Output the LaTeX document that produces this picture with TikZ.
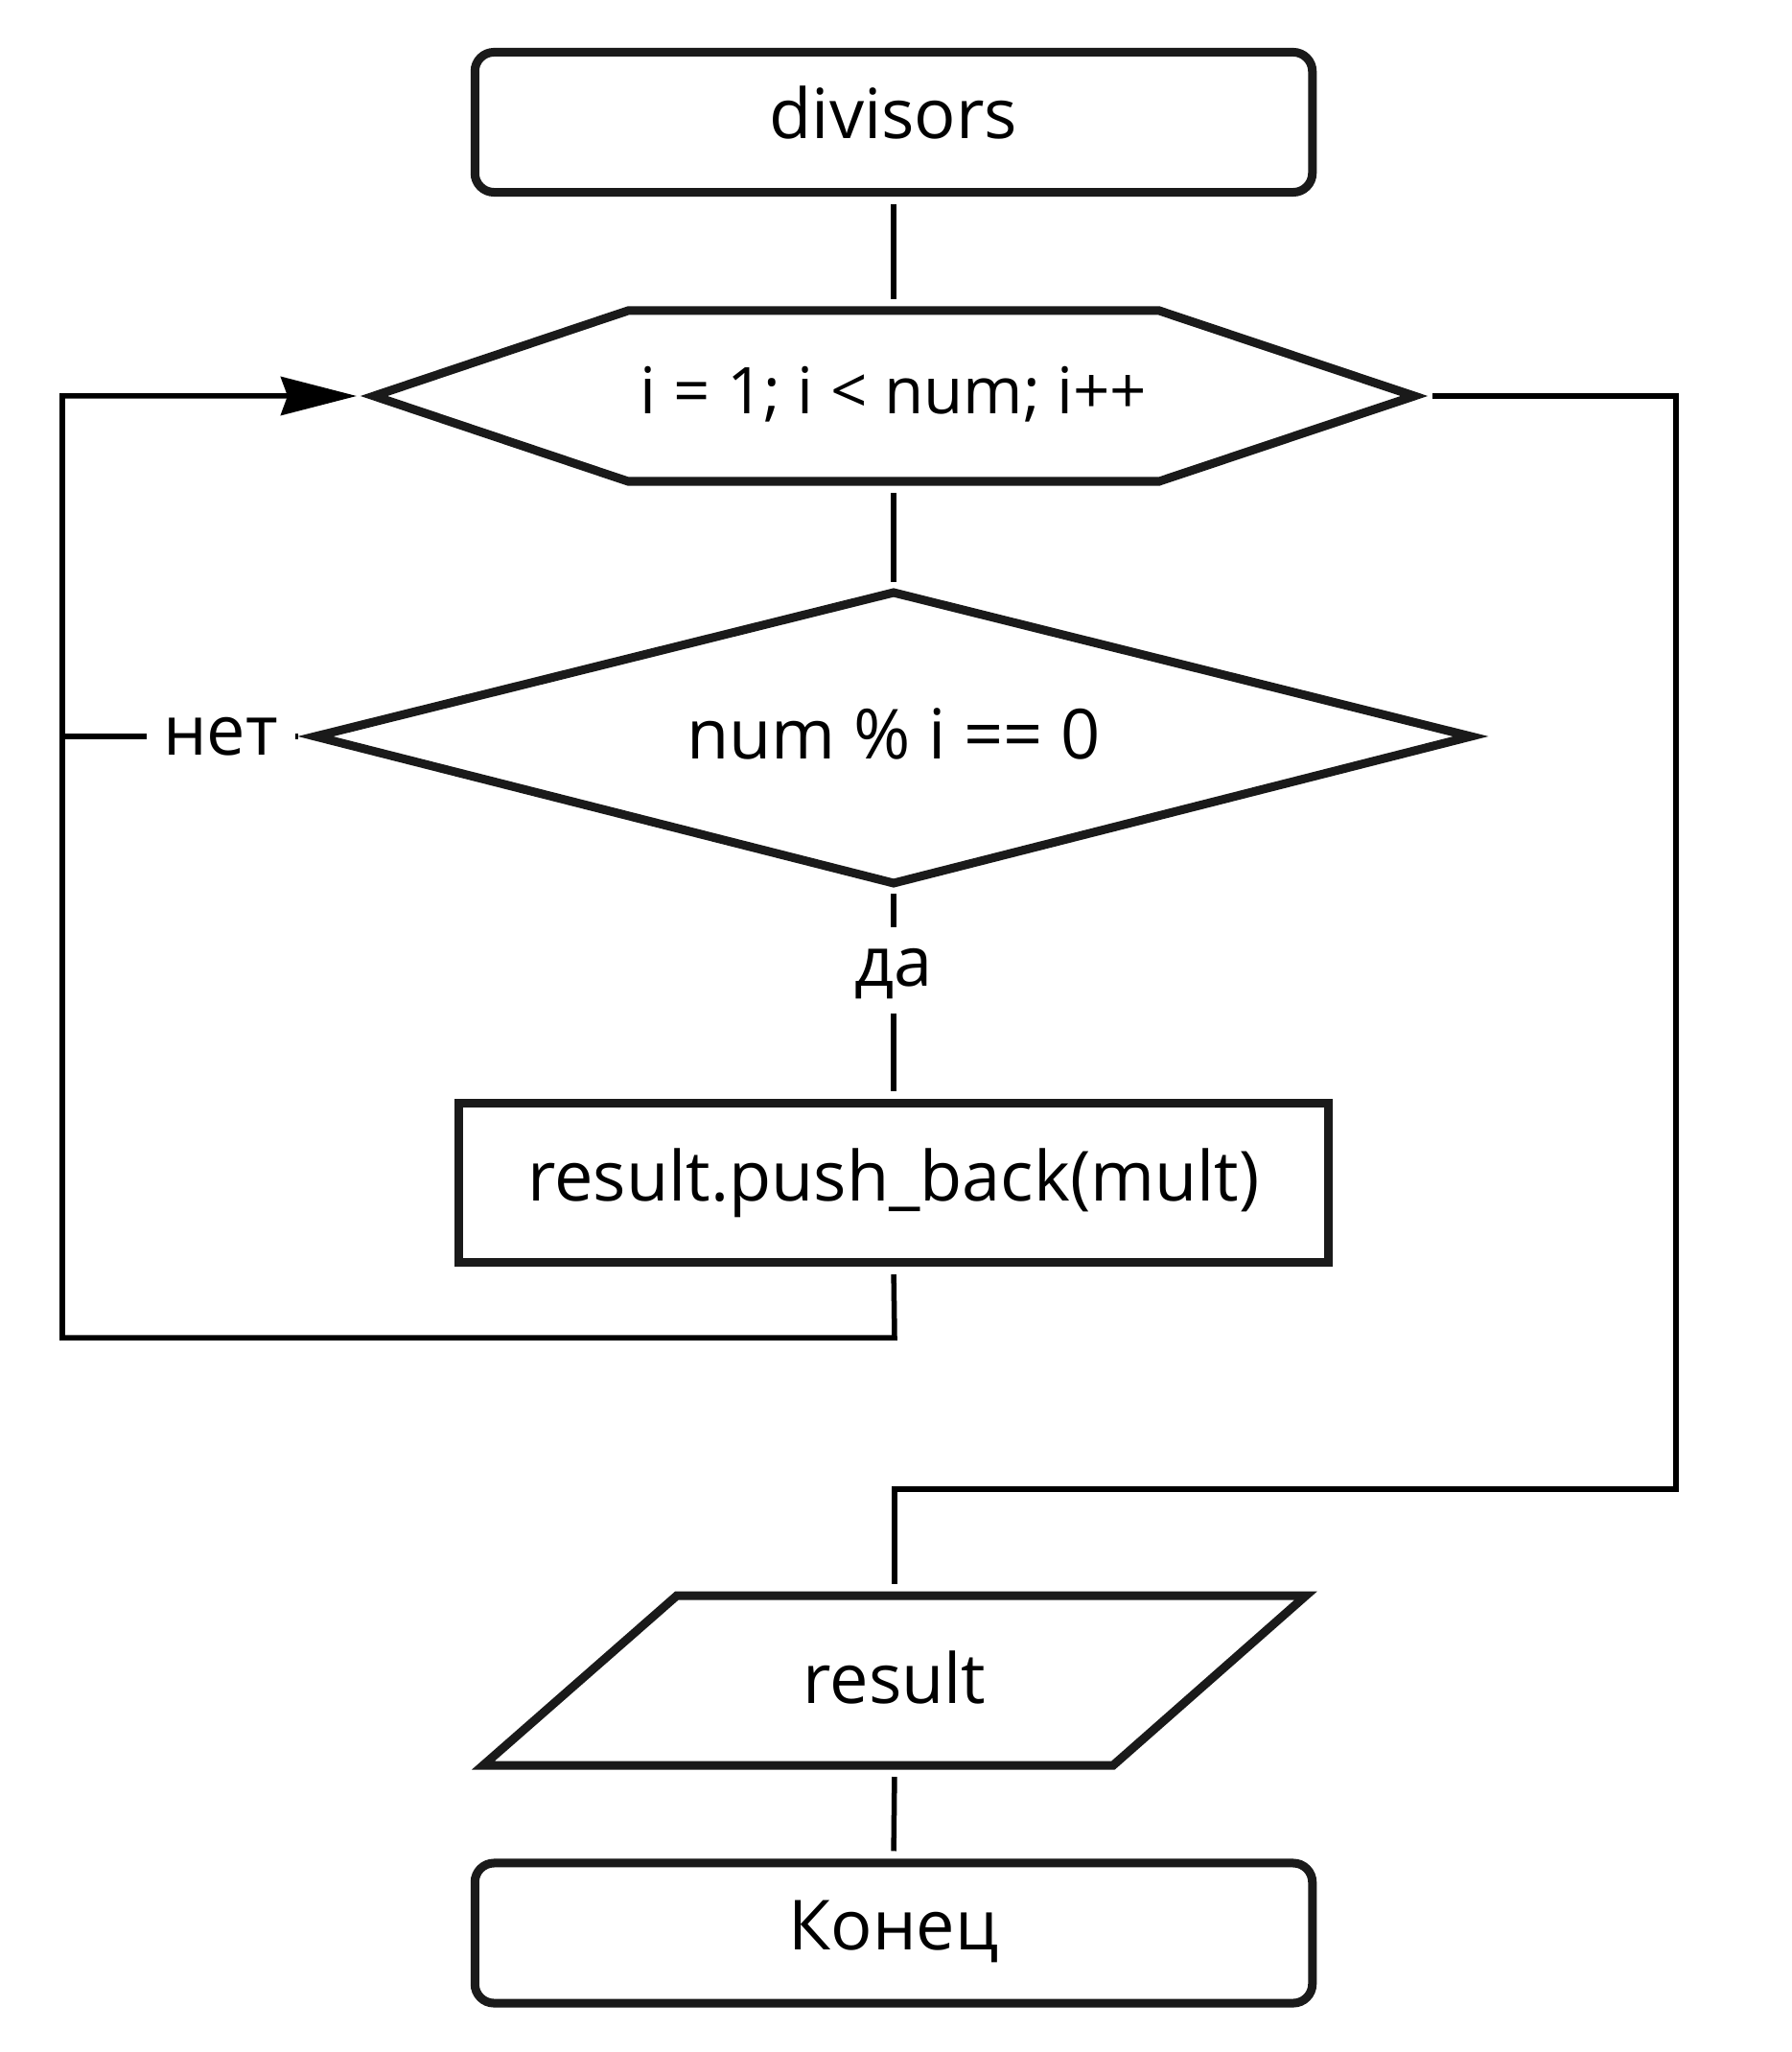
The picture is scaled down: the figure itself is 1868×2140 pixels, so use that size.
\documentclass[tikz,border=0pt]{standalone}
\usepackage{fontspec}
\setmainfont{Open Sans}
\usetikzlibrary{arrows.meta}
\definecolor{shapecol}{HTML}{1A1A1A}
\begin{document}
\begin{tikzpicture}[x=0.01cm,y=-0.01cm,
  shp/.style={draw=shapecol, line width=0.09cm, line join=miter},
  txt/.style={font=\fontsize{20.5}{24}\selectfont, inner sep=0pt},
  smalltxt/.style={font=\fontsize{19.1}{22}\selectfont, inner sep=0pt},
  conn/.style={draw=black, line width=0.055cm, shorten <=0.08cm, shorten >=0.08cm},
  term/.style={shp, rounded corners=0.2cm, minimum width=8.73cm, minimum height=1.46cm,
    txt, text height=0.97em, text depth=0pt},
  procbox/.style={shp, minimum width=9.06cm, minimum height=1.66cm, txt},
  lbl/.style={txt}
]
\fill[white] (0,0) rectangle (1868,2140);

% start
\node[term] (start) at (932,127.5) {divisors};

% loop hexagon
\draw[shp] (390,413) -- (655,324) -- (1209,324) -- (1475,413) -- (1209,502) -- (655,502) -- cycle;
\node[smalltxt] (loop) at (932,411) {i = 1; i < num; i++};
\coordinate (loopN) at (932,320);
\coordinate (loopS) at (932,506);
\coordinate (loopW) at (382,413);
\coordinate (loopE) at (1486,413);

% decision diamond
\draw[shp] (932,618) -- (1534,768) -- (932,921) -- (329,768) -- cycle;
\node[txt] (dec) at (932,765) {num \% i == 0};
\coordinate (decN) at (932,615);
\coordinate (decS) at (932,924);
\coordinate (decW) at (319,768);

% process
\node[procbox] (proc) at (932,1233.5) {result.push\_back(mult)};

% output parallelogram
\draw[shp] (706,1664) -- (1362,1664) -- (1161,1841) -- (504,1841) -- cycle;
\node[txt] (out) at (933,1749) {result};
\coordinate (outN) at (933,1660);
\coordinate (outS) at (933,1845);

% end
\node[term] (stop) at (932,2016) {Конец};

% helper coordinates
\coordinate (back1) at (933,1395);
\coordinate (back2) at (65,1395);
\coordinate (back3) at (65,413);
\coordinate (noL) at (65,768);
\coordinate (noLft) at (153,768);
\coordinate (noRgt) at (308,768);
\coordinate (yesTop) at (932,967);
\coordinate (yesBot) at (932,1057);
\coordinate (ex1) at (1748,413);
\coordinate (ex2) at (1748,1553);
\coordinate (ex3) at (933,1553);

% connectors
\draw[conn] (start) -- (loopN);
\draw[conn] (loopS) -- (decN);
\draw[conn, shorten >=0pt] (decS) -- (yesTop);
\node[lbl] (yes) at (932,1016) {да};
\draw[conn, shorten <=0pt] (yesBot) -- (proc.north);
\draw[conn, shorten >=0pt] (decW) -- (noRgt);
\node[lbl] (no) at (230,768) {нет};
\draw[conn, shorten <=0pt, shorten >=0pt] (noLft) -- (noL);
\draw[conn, shorten >=0.1cm, -{Stealth[length=0.79cm, width=0.40cm, inset=0.07cm]}]
  (proc.south) -- (back1) -- (back2) -- (back3) -- (loopW);
\draw[conn] (loopE) -- (ex1) -- (ex2) -- (ex3) -- (outN);
\draw[conn] (outS) -- (stop.north);
\end{tikzpicture}
\end{document}
